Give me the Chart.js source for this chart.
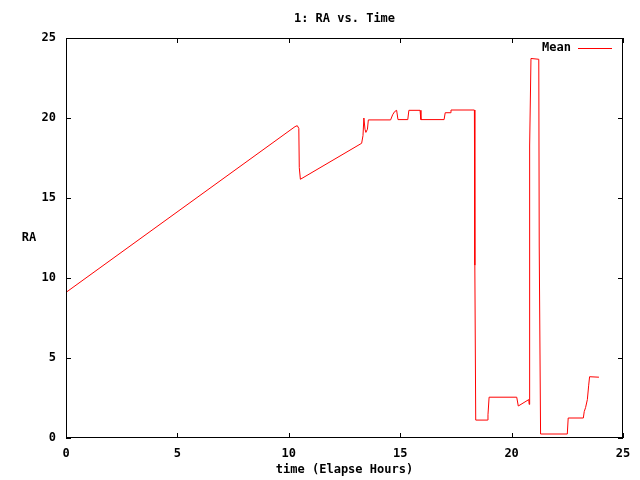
<!DOCTYPE html>
<html>
<head>
<meta charset="utf-8">
<script src="https://cdn.jsdelivr.net/npm/chart.js@4.4.1/dist/chart.umd.min.js"></script>
<style>
  html, body { margin: 0; padding: 0; background: #ffffff; }
</style>
</head>
<body>
<canvas id="chart" width="640" height="480"></canvas>
<script>
// elapsed time in hours
const time = [0, 10.28, 10.38, 10.45, 10.47, 10.52, 13.27, 13.33, 13.37, 13.42, 13.46, 13.53, 13.57,
    14.57, 14.66, 14.75, 14.84, 14.90, 15.34, 15.39, 15.89, 15.93, 16.97, 17.02, 17.24, 17.28,
    18.33, 18.35, 18.39, 18.91, 18.94, 18.99, 20.23, 20.30, 20.77, 20.79, 20.80, 20.82, 20.87,
    21.22, 21.24, 21.30, 22.50, 22.54, 23.22, 23.26, 23.32, 23.40, 23.46, 23.50, 23.92];
// mean RA
const ra = [9.1, 19.46, 19.52, 19.35, 16.9, 16.17, 18.42, 18.9, 20.0, 19.3, 19.1, 19.3, 19.88,
    19.88, 20.2, 20.4, 20.48, 19.9, 19.9, 20.48, 20.48, 19.9, 19.9, 20.33, 20.33, 20.5,
    20.5, 10.8, 1.12, 1.12, 1.45, 2.55, 2.55, 2.0, 2.4, 2.1, 7.5, 18.25, 23.72,
    23.67, 12.0, 0.25, 0.25, 1.25, 1.25, 1.65, 1.9, 2.4, 3.3, 3.83, 3.8];

const seriesLabel = "Mean";
const titleText = "1: RA vs. Time";
const xTitle = "time (Elapse Hours)";
const yTitle = "RA";

const FONT = "bold 12px 'DejaVu Sans Mono'";

// gnuplot style frame, inward ticks, title, legend and y label
const gnuplotLook = {
    id: "gnuplotLook",
    afterDatasetsDraw(chart) {
        const ctx = chart.ctx;
        const a = chart.chartArea;
        const xs = chart.scales.x;
        const ys = chart.scales.y;
        const tl = 5;
        ctx.save();
        ctx.strokeStyle = "#000000";
        ctx.lineWidth = 1;
        ctx.strokeRect(a.left + 0.5, a.top + 0.5, a.right - a.left - 1, a.bottom - a.top - 1);
        ctx.beginPath();
        xs.ticks.forEach(t => {
            const px = Math.round(xs.getPixelForValue(t.value)) + 0.5;
            ctx.moveTo(px, a.bottom); ctx.lineTo(px, a.bottom - tl);
            ctx.moveTo(px, a.top); ctx.lineTo(px, a.top + tl);
        });
        ys.ticks.forEach(t => {
            const py = Math.round(ys.getPixelForValue(t.value)) + 0.5;
            ctx.moveTo(a.left, py); ctx.lineTo(a.left + tl, py);
            ctx.moveTo(a.right, py); ctx.lineTo(a.right - tl, py);
        });
        ctx.stroke();

        ctx.fillStyle = "#000000";
        ctx.font = FONT;
        ctx.textBaseline = "middle";
        ctx.textAlign = "center";
        ctx.fillText(titleText, (a.left + a.right) / 2, 19);
        ctx.fillText(yTitle, 29, (a.top + a.bottom) / 2);

        // legend: text then line sample
        ctx.textAlign = "right";
        ctx.fillText(seriesLabel, 571, 48);
        ctx.strokeStyle = "#ff0000";
        ctx.beginPath();
        ctx.moveTo(578, 48.5);
        ctx.lineTo(612, 48.5);
        ctx.stroke();
        ctx.restore();
    }
};

const points = time.map((t, i) => ({ x: t, y: ra[i] }));

Chart.defaults.font.family = "'DejaVu Sans Mono'";
Chart.defaults.font.size = 12;
Chart.defaults.font.weight = "bold";
Chart.defaults.color = "#000000";

new Chart(document.getElementById("chart"), {
    type: "line",
    plugins: [gnuplotLook],
    data: {
        datasets: [{
            label: seriesLabel,
            data: points,
            borderColor: "#ff0000",
            borderWidth: 1,
            pointRadius: 0,
            tension: 0,
            fill: false
        }]
    },
    options: {
        responsive: false,
        animation: false,
        layout: { padding: { left: 0, right: 17, top: 38, bottom: 0 } },
        plugins: {
            legend: { display: false },
            title: { display: false },
            tooltip: { enabled: false }
        },
        scales: {
            x: {
                type: "linear",
                min: 0,
                max: 25,
                ticks: { stepSize: 5, padding: 9, maxRotation: 0 },
                grid: { display: false, drawTicks: false, tickLength: 0 },
                border: { display: false },
                title: { display: true, text: xTitle, padding: { top: 0, bottom: 3 } },
                afterFit(scale) { scale.height = 42; }
            },
            y: {
                min: 0,
                max: 25,
                ticks: { stepSize: 5, padding: 10 },
                grid: { display: false, drawTicks: false, tickLength: 0 },
                border: { display: false },
                afterFit(scale) { scale.width = 66; }
            }
        }
    }
});
</script>
</body>
</html>
